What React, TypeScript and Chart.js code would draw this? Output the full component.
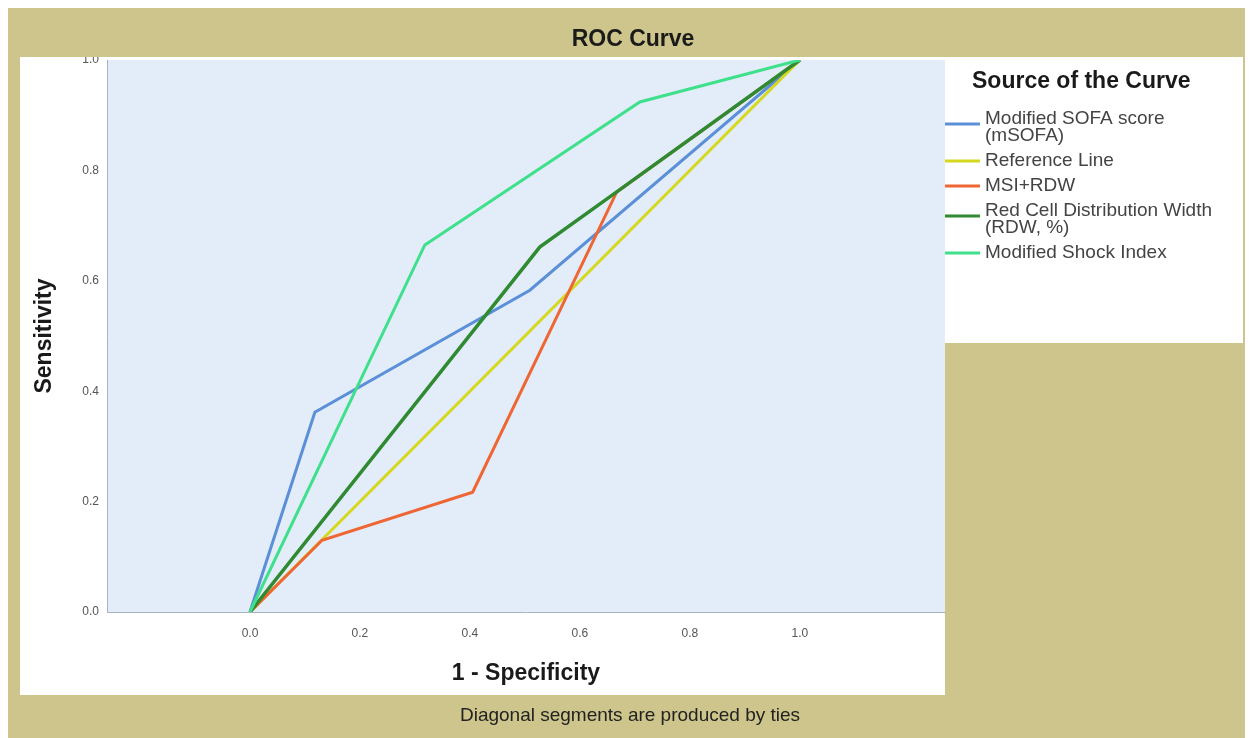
import React, { useEffect, useRef } from 'react';
import { Chart, registerables } from 'chart.js';

Chart.register(...registerables);

// ---- Data ----
const chartTitle = 'ROC Curve';
const footnote = 'Diagonal segments are produced by ties';
const xAxisTitle = '1 - Specificity';
const yAxisTitle = 'Sensitivity';
const legendTitle = 'Source of the Curve';

const seriesNames = [
  'Modified SOFA score (mSOFA)',
  'Reference Line',
  'MSI+RDW',
  'Red Cell Distribution Width (RDW, %)',
  'Modified Shock Index',
];
const legendLines = [
  ['Modified SOFA score', '(mSOFA)'],
  ['Reference Line'],
  ['MSI+RDW'],
  ['Red Cell Distribution Width', '(RDW, %)'],
  ['Modified Shock Index'],
];
const seriesColors = ['#5b8fd8', '#d6d81e', '#ee6634', '#2f8a32', '#3fe08c'];

const msofaX = [0, 0.118, 0.509, 1];
const msofaY = [0, 0.362, 0.583, 1];
const refX = [0, 1];
const refY = [0, 1];
const msiRdwX = [0, 0.131, 0.405, 0.667, 1];
const msiRdwY = [0, 0.13, 0.217, 0.761, 1];
const rdwX = [0, 0.527, 0.667, 1];
const rdwY = [0, 0.661, 0.761, 1];
const msiX = [0, 0.318, 0.709, 1];
const msiY = [0, 0.665, 0.924, 1];

const xTicks = [0, 0.2, 0.4, 0.6, 0.8, 1.0];
const yTicks = [0, 0.2, 0.4, 0.6, 0.8, 1.0];

const seriesX = [msofaX, refX, msiRdwX, rdwX, msiX];
const seriesY = [msofaY, refY, msiRdwY, rdwY, msiY];

const FONT = "'Liberation Sans', Arial, sans-serif";
const TAN = '#cdc58b';

const framePlugin = {
  id: 'frame',
  beforeDraw(chart: any) {
    const { ctx, width, height, chartArea } = chart;
    ctx.save();
    ctx.fillStyle = '#ffffff';
    ctx.fillRect(0, 0, width, height);
    ctx.fillStyle = TAN;
    ctx.fillRect(8, 8, 1237, height - 8);
    ctx.fillStyle = '#ffffff';
    ctx.fillRect(20, 57, chartArea.right - 20, 638);
    ctx.fillRect(chartArea.right, 57, 298, 286);
    ctx.fillStyle = '#e3edf9';
    ctx.fillRect(chartArea.left, chartArea.top, chartArea.right - chartArea.left, chartArea.bottom - chartArea.top);
    ctx.restore();
  },
  afterDraw(chart: any) {
    const { ctx, chartArea } = chart;
    ctx.save();
    // top band (clips the top tick label like the original)
    ctx.fillStyle = TAN;
    ctx.fillRect(8, 8, 1237, 49);
    // Title
    ctx.fillStyle = '#1a1a1a';
    ctx.font = `bold 23px ${FONT}`;
    ctx.textAlign = 'center';
    ctx.textBaseline = 'middle';
    ctx.fillText(chartTitle, 633, 40);
    // Footnote
    ctx.fillStyle = '#222222';
    ctx.font = `19px ${FONT}`;
    ctx.fillText(footnote, 630, 716);
    // Legend
    const lx = chartArea.right;
    ctx.textAlign = 'left';
    ctx.fillStyle = '#1a1a1a';
    ctx.font = `bold 23px ${FONT}`;
    ctx.fillText(legendTitle, 972, 82);
    ctx.font = `19px ${FONT}`;
    let y = 119;
    const lineH = 17;
    chart.data.datasets.forEach((ds: any, i: number) => {
      const lines = legendLines[i];
      const mid = y + (lines.length > 1 ? 5 : 0);
      ctx.strokeStyle = ds.borderColor;
      ctx.lineWidth = 3;
      ctx.beginPath();
      ctx.moveTo(lx, mid);
      ctx.lineTo(lx + 35, mid);
      ctx.stroke();
      ctx.fillStyle = '#444444';
      lines.forEach((t, k) => ctx.fillText(t, lx + 40, y + k * lineH));
      y += lines.length * lineH + 8;
    });
    ctx.restore();
  },
};

export default function App() {
  const ref = useRef<HTMLCanvasElement>(null);
  useEffect(() => {
    document.body.style.margin = '0';
    document.body.style.overflow = 'hidden';
    const canvas = ref.current!;
    const chart = new Chart(canvas, {
      type: 'scatter',
      data: {
        datasets: seriesNames.map((name, i) => ({
          label: name,
          data: seriesX[i].map((x, k) => ({ x, y: seriesY[i][k] })),
          showLine: true,
          borderColor: seriesColors[i],
          backgroundColor: seriesColors[i],
          borderWidth: i === 3 ? 3.5 : 3,
          pointRadius: 0,
          tension: 0,
          order: 5 - i,
        })),
      },
      options: {
        responsive: false,
        animation: false,
        layout: { padding: { left: 20, right: 308, top: 60, bottom: 43 } },
        plugins: {
          legend: { display: false },
          title: { display: false },
          tooltip: { enabled: false },
        },
        scales: {
          x: {
            type: 'linear',
            min: -0.26,
            max: 1.264,
            afterFit: (s: any) => { s.height = 83; },
            afterBuildTicks: (s: any) => { s.ticks = xTicks.map((v) => ({ value: v })); },
            grid: { display: false, drawTicks: false },
            border: { display: true, color: '#a9b4c2', width: 1 },
            ticks: {
              padding: 14,
              color: '#555555',
              font: { family: FONT, size: 12 },
              maxRotation: 0,
              callback: (v: any) => Number(v).toFixed(1),
            },
            title: {
              display: true,
              text: xAxisTitle,
              color: '#1a1a1a',
              font: { family: FONT, size: 23, weight: 'bold' },
              padding: { top: 0, bottom: 8 },
            },
          },
          y: {
            type: 'linear',
            min: 0,
            max: 1,
            afterFit: (s: any) => { s.width = 87; },
            afterBuildTicks: (s: any) => { s.ticks = yTicks.map((v) => ({ value: v })); },
            grid: { display: false, drawTicks: false },
            border: { display: true, color: '#a9b4c2', width: 1 },
            ticks: {
              padding: 8,
              color: '#555555',
              font: { family: FONT, size: 12 },
              callback: (v: any) => Number(v).toFixed(1),
            },
            title: {
              display: true,
              text: yAxisTitle,
              color: '#1a1a1a',
              font: { family: FONT, size: 23, weight: 'bold' },
              padding: { top: 11, bottom: 0 },
            },
          },
        },
      },
      plugins: [framePlugin],
    });
    return () => chart.destroy();
  }, []);
  return <canvas ref={ref} width={1253} height={738} style={{ display: 'block' }} />;
}
